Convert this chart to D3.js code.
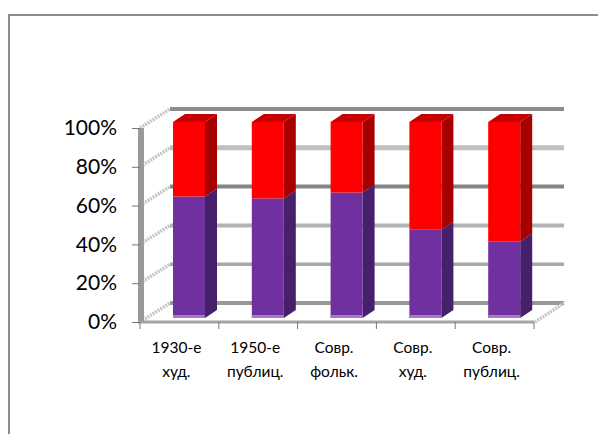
<!DOCTYPE html>
<html>
<head>
<meta charset="utf-8">
<script src="https://cdn.jsdelivr.net/npm/d3@7/dist/d3.min.js"></script>
<style>
html,body{margin:0;padding:0;background:#fff}
svg{display:block}
text{font-family:Lato,"Open Sans",sans-serif;fill:#000}
</style>
</head>
<body>
<svg id="chart" width="598" height="434"></svg>
<script>
const categories = [["1930-е","худ."],["1950-е","публиц."],["Совр.","фольк."],["Совр.","худ."],["Совр.","публиц."]];
const lowerShare = [62, 61, 64, 45, 39];
const upperShare = [38, 39, 36, 55, 61];
const yTicks = [0, 20, 40, 60, 80, 100];
const wallShades = ["#999999", "#a8a8a8", "#b4b4b4", "#858585", "#bfbfbf", "#8c8c8c"];
const wallWidths = [4, 3.5, 4, 4, 5, 4];

const svg = d3.select("#chart");
const x = d3.scaleBand().domain(d3.range(categories.length)).range([140, 534]);
const y = d3.scaleLinear().domain([0, 100]).range([322, 128]);
const yBar = d3.scaleLinear().domain([0, 100]).range([318, 122]);

// Oblique projection of the side wall and of the bar depth
const wallDX = 30, wallDY = -19;
const barDX = 12, barDY = -8;
const line = d3.line();
const sideWall = { stroke: "#c6c6c6", width: 3.5, dash: "2 1" };

// Frame of the chart area
svg.append("path").attr("d", "M9,434V15H598").attr("fill", "none")
  .attr("stroke", "#8c8c8c").attr("stroke-width", 2);

// Back wall gridlines and their continuation across the side wall
yTicks.forEach((t, i) => {
  svg.append("path")
    .attr("d", line([[140 + wallDX, y(t) + wallDY], [534 + wallDX, y(t) + wallDY]]))
    .attr("stroke", wallShades[i]).attr("stroke-width", wallWidths[i]).attr("fill", "none");
  svg.append("path")
    .attr("d", line([[140, y(t)], [140 + wallDX, y(t) + wallDY]]))
    .attr("stroke", sideWall.stroke).attr("stroke-width", sideWall.width)
    .attr("stroke-dasharray", sideWall.dash).attr("fill", "none");
});
// Floor edge on the right
svg.append("path")
  .attr("d", line([[535, y(0)], [534 + wallDX, y(0) + wallDY]]))
  .attr("stroke", sideWall.stroke).attr("stroke-width", sideWall.width)
  .attr("stroke-dasharray", sideWall.dash).attr("fill", "none");

// Stacked prisms
const barX = i => x(i) + 33;
const barW = 32;
const prism = (i, from, to, front, side, top) => {
  const xr = barX(i) + barW;
  svg.append("path").attr("fill", side).attr("d", line([
    [xr, yBar(from)], [xr + barDX, yBar(from) + barDY],
    [xr + barDX, yBar(to) + barDY], [xr, yBar(to)]]) + "Z");
  if (top) svg.append("path").attr("fill", top).attr("d", line([
    [barX(i), yBar(to)], [barX(i) + barDX, yBar(to) + barDY],
    [xr + barDX, yBar(to) + barDY], [xr, yBar(to)]]) + "Z");
  svg.append("rect").attr("fill", front)
    .attr("x", barX(i)).attr("width", barW)
    .attr("y", yBar(to)).attr("height", yBar(from) - yBar(to));
};
categories.forEach((c, i) => {
  prism(i, 0, lowerShare[i], "#7030a0", "#46206a", null);
  prism(i, lowerShare[i], lowerShare[i] + upperShare[i], "#ff0000", "#a60000", "#c80000");
  // Lighter sheen along the foot of each bar
  svg.append("rect").attr("fill", "#a27cc4")
    .attr("x", barX(i)).attr("width", barW)
    .attr("y", yBar(0) - 3).attr("height", 3);
});

// Front axes
svg.append("path").attr("d", line([[141, y(100)], [141, y(0)]]))
  .attr("stroke", "#999999").attr("stroke-width", 6).attr("fill", "none");
svg.append("path").attr("d", line([[138, y(0)], [534, y(0)]]))
  .attr("stroke", "#a4a4a4").attr("stroke-width", 3).attr("fill", "none");

const yAxis = d3.axisLeft(y).tickValues(yTicks).tickSize(8).tickFormat(d => d + "%");
const yG = svg.append("g").attr("transform", "translate(140,0)").call(yAxis);
yG.select(".domain").remove();
yG.selectAll("line").attr("stroke", "#777");
yG.selectAll("text").attr("font-size", 21).attr("x", -23).style("fill", "#000");

const xTicks = d3.range(categories.length + 1).map(i => 140 + x.step() * i);
svg.selectAll(".xt").data(xTicks).join("line").attr("class", "xt")
  .attr("x1", d => d).attr("x2", d => d).attr("y1", 322).attr("y2", 329).attr("stroke", "#777");

categories.forEach((c, i) => {
  const t = svg.append("text").attr("text-anchor", "middle").attr("font-size", 15.5);
  c.forEach((s, k) => t.append("tspan").attr("x", x(i) + x.bandwidth() / 2 - 3).attr("y", 353 + k * 24).text(s));
});
</script>
</body>
</html>
